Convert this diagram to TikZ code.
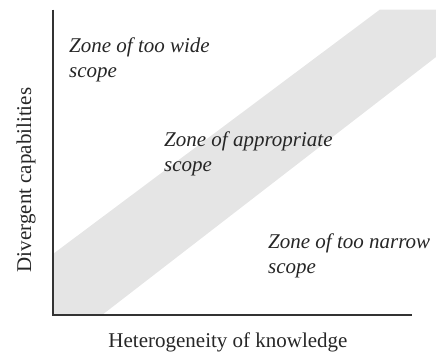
\documentclass[tikz,border=0pt]{standalone}
\usepackage{fontspec}
\setmainfont{Liberation Serif}
\usetikzlibrary{positioning}
\tikzstyle{zone} = [anchor=base west, inner sep=0pt, align=left, font=\fontsize{21}{25}\selectfont\itshape, text=black!85]
\tikzstyle{axislabel} = [inner sep=0pt, font=\fontsize{21}{25}\selectfont, text=black!85]
\tikzstyle{axis} = [line width=1.2pt, draw=black!80]
\tikzstyle{band} = [fill=black!10, draw=none]

\begin{document}
\begin{tikzpicture}[x=1pt, y=-1pt]
		\useasboundingbox (0,0) rectangle (436,354);
		\fill [band] (53,315) -- (102,315) -- (436,57) -- (436,9.5) -- (380,9.5) -- (53,254) -- cycle;
		\coordinate (origin) at (53,315);
		\coordinate (ytop) at (53,9.5);
		\coordinate (xend) at (412,315);
		\draw [axis] (ytop) -- (origin) -- (xend);
		\node (wide) [zone] at (69,77) {Zone of too wide\\scope};
		\node (appropriate) [zone] at (164,171) {Zone of appropriate\\scope};
		\node (narrow) [zone] at (268,273) {Zone of too narrow\\scope};
		\node (xlabel) [axislabel, anchor=base] at (228,347) {Heterogeneity of knowledge};
		\node (ylabel) [axislabel, anchor=base, rotate=90] at (31,180) {Divergent capabilities};
	\end{tikzpicture}
\end{document}
